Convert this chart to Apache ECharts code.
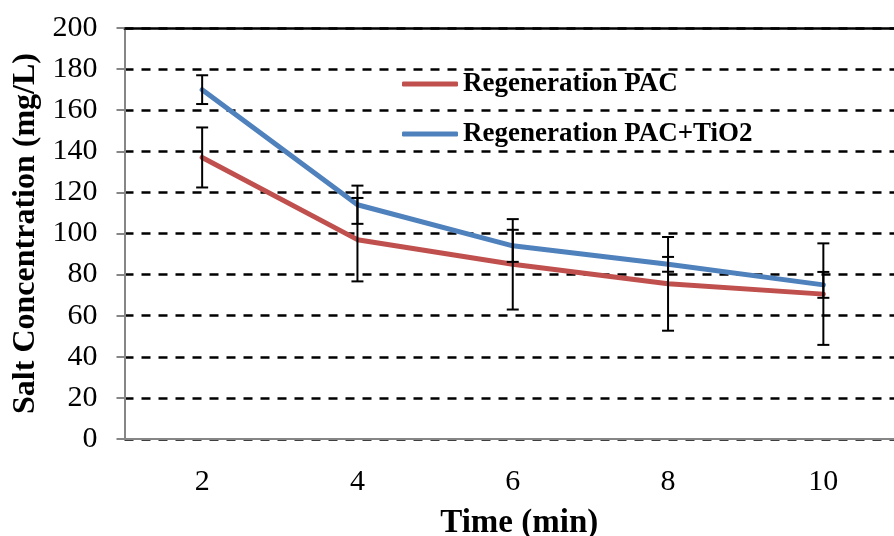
<!DOCTYPE html>
<html>
<head>
<meta charset="utf-8">
<style>
  html, body { margin: 0; padding: 0; background: #fff; }
  #chart { width: 894px; height: 536px; }
</style>
<script src="https://cdn.jsdelivr.net/npm/echarts@6/dist/echarts.min.js"></script>
</head>
<body>
<div id="chart"></div>
<script>
// Time points (min)
const times = ['2', '4', '6', '8', '10'];

// Salt concentration (mg/L) and standard deviations
const pacValues = [137, 97, 85, 75.5, 70.5];
const pacErrors = [14.6, 20.3, 22, 22.8, 24.7];
const pacTiO2Values = [170, 114, 94, 85, 75];
const pacTiO2Errors = [7, 9.3, 7.8, 3.6, 6.3];

const seriesNames = ['Regeneration PAC', 'Regeneration PAC+TiO2'];
const seriesColors = ['#C0504D', '#4F81BD'];

const FONT = '"Liberation Serif", "Times New Roman", serif';

// Build [index, low, high] triples for the error-bar series
function errorData(values, errors) {
  return values.map((v, i) => [i, v - errors[i], v + errors[i]]);
}

function renderErrorBar(params, api) {
  const i = api.value(0);
  const low = api.coord([i, api.value(1)]);
  const high = api.coord([i, api.value(2)]);
  const half = 6;
  const style = { stroke: '#000', lineWidth: 2, fill: null };
  return {
    type: 'group',
    children: [
      { type: 'line', shape: { x1: high[0], y1: high[1], x2: low[0], y2: low[1] }, style },
      { type: 'line', shape: { x1: high[0] - half, y1: high[1], x2: high[0] + half, y2: high[1] }, style },
      { type: 'line', shape: { x1: low[0] - half, y1: low[1], x2: low[0] + half, y2: low[1] }, style }
    ]
  };
}

const chart = echarts.init(document.getElementById('chart'), null, { renderer: 'canvas' });

chart.setOption({
  backgroundColor: '#ffffff',
  animation: false,
  textStyle: { fontFamily: FONT },
  // plot area runs slightly past the right edge of the canvas
  grid: { left: 124.5, width: 776.5, top: 28, bottom: 97, containLabel: false, outerBoundsMode: 'none' },
  legend: {
    orient: 'vertical',
    left: 402,
    top: 70.5,
    padding: 0,
    itemGap: 23,
    itemWidth: 56,
    itemHeight: 5,
    icon: 'roundRect',
    data: seriesNames,
    textStyle: { fontFamily: FONT, fontSize: 27, fontWeight: 'bold', color: '#000', lineHeight: 27 }
  },
  xAxis: [
    {
      type: 'category',
      data: times,
      boundaryGap: true,
      name: 'Time (min)',
      nameLocation: 'middle',
      nameGap: 68,
      nameTextStyle: { fontFamily: FONT, fontSize: 33, fontWeight: 'bold', color: '#000', padding: [0, 0, 0, 13] },
      axisLine: { lineStyle: { color: '#868686', width: 2 } },
      axisTick: { alignWithLabel: true, length: 6, lineStyle: { color: '#868686', width: 2 } },
      axisLabel: { fontFamily: FONT, fontSize: 30, color: '#000', margin: 28 },
      splitLine: { show: false }
    },
    {
      // solid top edge of the plot area
      type: 'category',
      data: times,
      position: 'top',
      axisLine: { lineStyle: { color: '#000', width: 2.5 } },
      axisTick: { show: false },
      axisLabel: { show: false },
      splitLine: { show: false }
    }
  ],
  yAxis: {
    type: 'value',
    min: 0,
    max: 200,
    interval: 20,
    name: 'Salt Concentration (mg/L)',
    nameLocation: 'middle',
    nameGap: 82,
    nameRotate: 90,
    nameTextStyle: { fontFamily: FONT, fontSize: 32, fontWeight: 'bold', color: '#000' },
    axisLine: { show: true, lineStyle: { color: '#868686', width: 2 } },
    axisTick: { show: true, length: 8, lineStyle: { color: '#868686', width: 2 } },
    axisLabel: { fontFamily: FONT, fontSize: 30, color: '#000', margin: 27 },
    splitLine: { show: true, lineStyle: { color: '#000', width: 2.5, type: [9, 8] } }
  },
  series: [
    {
      name: seriesNames[0],
      type: 'line',
      data: pacValues,
      color: seriesColors[0],
      showSymbol: false,
      symbol: 'none',
      lineStyle: { width: 5, color: seriesColors[0], cap: 'round', join: 'round' },
      z: 3
    },
    {
      name: seriesNames[1],
      type: 'line',
      data: pacTiO2Values,
      color: seriesColors[1],
      showSymbol: false,
      symbol: 'none',
      lineStyle: { width: 5, color: seriesColors[1], cap: 'round', join: 'round' },
      z: 3
    },
    {
      name: 'PAC error',
      type: 'custom',
      renderItem: renderErrorBar,
      data: errorData(pacValues, pacErrors),
      encode: { x: 0, y: [1, 2] },
      z: 5,
      silent: true
    },
    {
      name: 'PAC+TiO2 error',
      type: 'custom',
      renderItem: renderErrorBar,
      data: errorData(pacTiO2Values, pacTiO2Errors),
      encode: { x: 0, y: [1, 2] },
      z: 5,
      silent: true
    }
  ]
});
</script>
</body>
</html>
